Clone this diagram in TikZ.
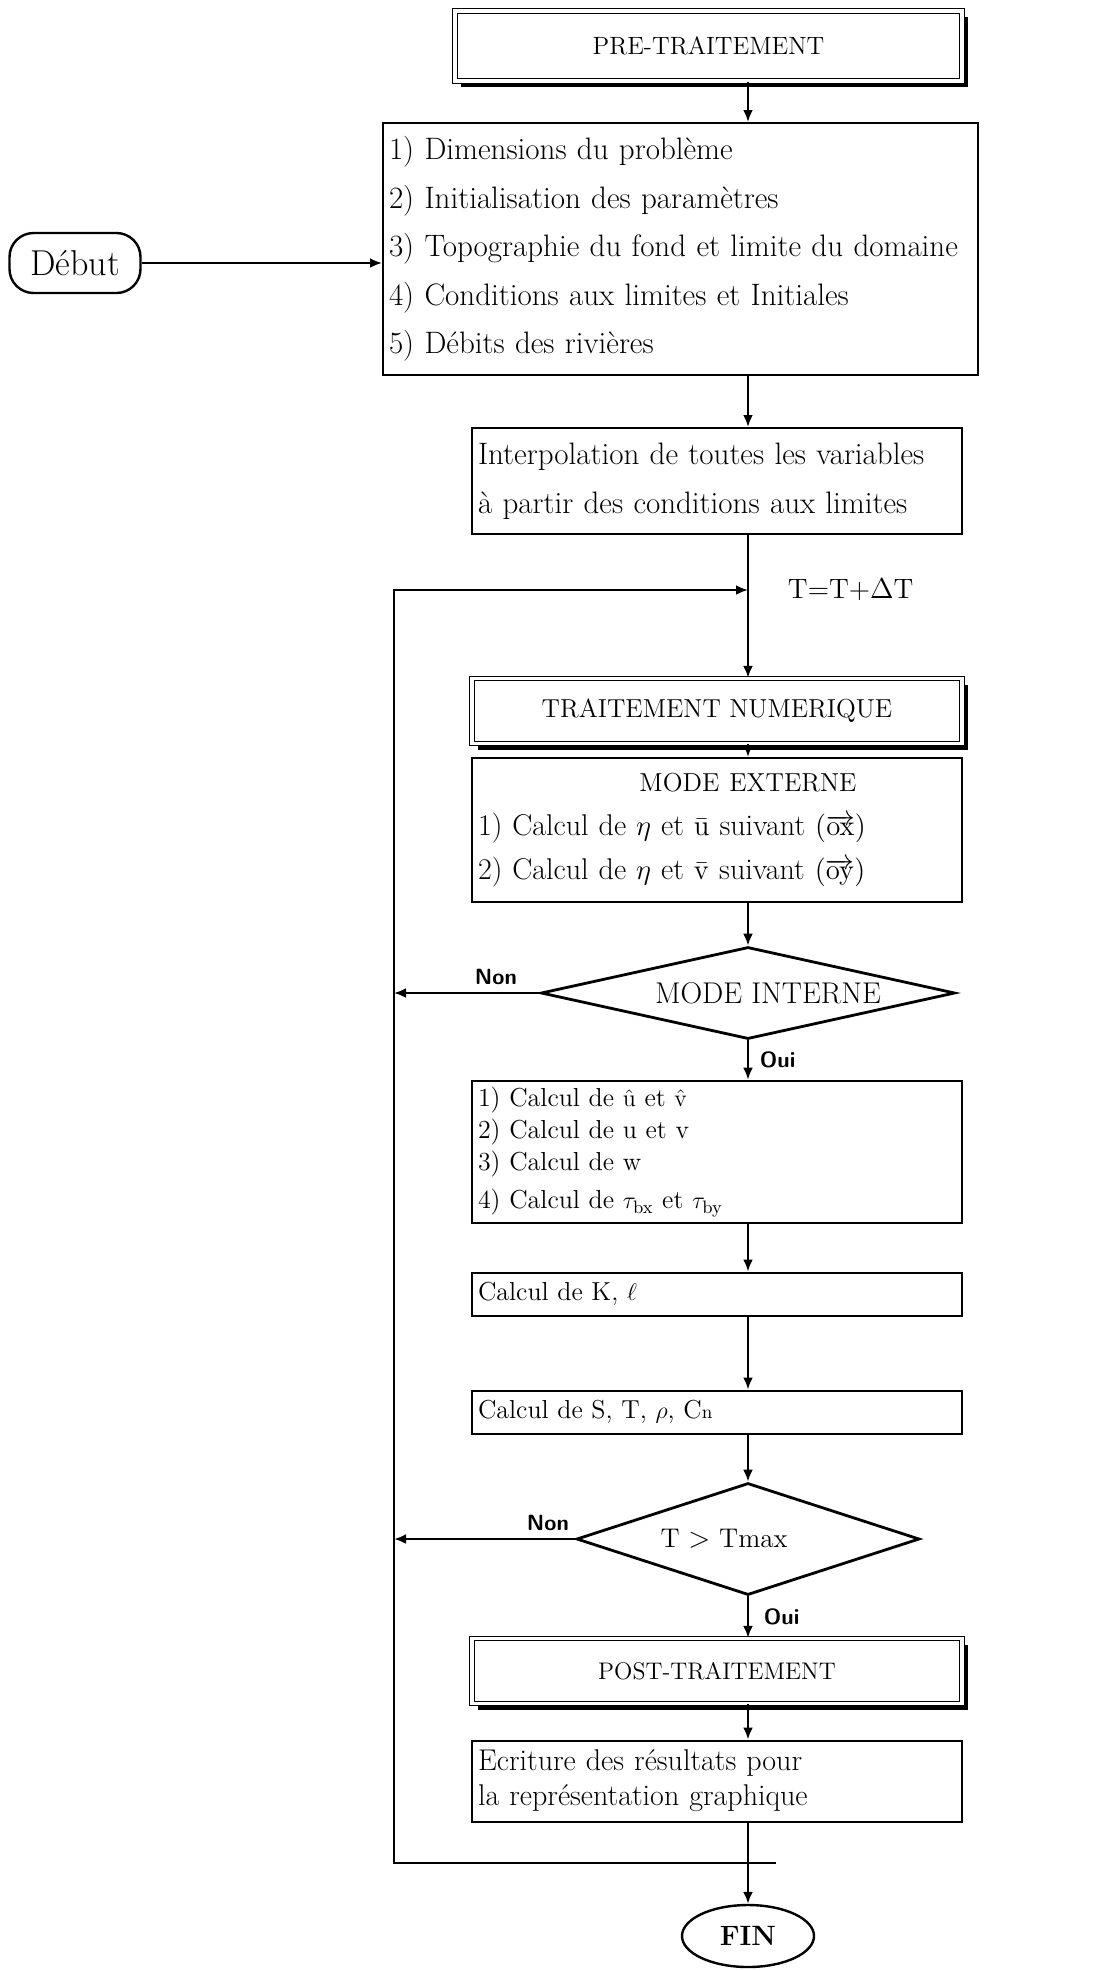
\documentclass[tikz,border=0pt]{standalone}
\usetikzlibrary{shapes,arrows.meta,shadows}

\tikzstyle{block} = [draw, rectangle, line width=1pt, inner xsep=3pt,
    align=left, text width=239pt, font=\fontsize{13}{17}\selectfont]
\tikzstyle{titlebox} = [draw, rectangle, line width=0.6pt, double,
    double distance=1.6pt, fill=white, minimum width=245pt,
    minimum height=32.5pt, font=\fontsize{12.5}{15}\selectfont,
    drop shadow={shadow xshift=3.2pt, shadow yshift=-3pt,
    opacity=1, fill=black}]
\tikzstyle{decision} = [draw, diamond, line width=1.4pt, inner sep=0pt,
    font=\fontsize{14}{16}\selectfont]
\tikzstyle{term} = [draw, line width=1.2pt, font=\fontsize{14}{16}\selectfont]
\tikzstyle{lbl} = [font=\sffamily\bfseries\fontsize{11}{12}\selectfont]
\tikzstyle{conn} = [line width=1.3pt]

\begin{document}
\begin{tikzpicture}[x=0.5pt, y=-0.5pt, >={Latex[length=6pt,width=5pt]}]
    \useasboundingbox (0,0) rectangle (1104,1971);
    % the vertical line that carries the flow
    \coordinate (main) at (748,0);

    % pre-processing part
    \node [titlebox, minimum width=253.5pt, minimum height=35pt] (pre)
        at (708.5,46) {PRE-TRAITEMENT};
    \node [block, text width=291.5pt, minimum height=126pt,
        font=\fontsize{15.5}{24.25}\selectfont] (dims) at (680.5,249)
        {1) Dimensions du problème\\
         2) Initialisation des paramètres\\
         3) Topographie du fond et limite du domaine\\
         4) Conditions aux limites et Initiales\\
         5) Débits des rivières};
    \node [term, rounded corners=12pt, minimum width=65.5pt,
        minimum height=30pt, font=\fontsize{18}{20}\selectfont] (debut)
        at (75,263) {Début};
    \node [block, minimum height=53pt, font=\fontsize{15.5}{24.5}\selectfont]
        (interp) at (717,481)
        {Interpolation de toutes les variables\\
         à partir des conditions aux limites};

    % time loop, placed one below the other
    \node [titlebox, font=\fontsize{13}{15}\selectfont, node distance=115pt,
        below of=interp] (trait) {TRAITEMENT NUMERIQUE};
    \node [block, minimum height=72pt, font=\fontsize{15}{22}\selectfont,
        node distance=59.5pt, below of=trait] (modeext)
        {\makebox[239pt][c]{\hspace*{31pt}\fontsize{13}{15}\selectfont
            MODE EXTERNE}\\
         1) Calcul de $\eta$ et $\smash{\bar{\mathrm{u}}}$ suivant
            $(\smash{\overrightarrow{\mathrm{ox}}})$\\
         2) Calcul de $\eta$ et $\smash{\bar{\mathrm{v}}}$ suivant
            $(\smash{\overrightarrow{\mathrm{oy}}})$};
    \node [decision, minimum width=207pt, minimum height=46pt,
        aspect=4.5, font=\fontsize{15}{17}\selectfont, node distance=81.5pt,
        below of=modeext, xshift=15.5pt] (modeint)
        {\hspace*{20pt}MODE INTERNE};
    \node [block, minimum height=70.5pt, node distance=161pt,
        below of=modeext] (calc4)
        {1) Calcul de $\smash{\hat{\mathrm{u}}}$ et
            $\smash{\hat{\mathrm{v}}}$\\[-1pt]
         2) Calcul de u et v\\[-1pt]
         3) Calcul de w\\[2pt]
         4) Calcul de $\tau_{\mathrm{bx}}$ et $\tau_{\mathrm{by}}$};
    \node [block, minimum height=21.5pt, node distance=71pt,
        below of=calc4] (calck) {Calcul de K, $\ell$};
    \node [block, minimum height=21.5pt, node distance=59pt,
        below of=calck] (calcs)
        {Calcul de S, T, $\rho$, C{\fontsize{9.5}{10}\selectfont n}};
    \node [decision, minimum width=171.5pt, minimum height=56pt,
        aspect=3.06, font=\fontsize{13.5}{15}\selectfont,
        node distance=63.5pt, below of=calcs, xshift=15.5pt] (tmax)
        {T $>$ Tmax\hspace*{24pt}};

    % post-processing part
    \node [titlebox, font=\fontsize{12}{15}\selectfont, node distance=129.5pt,
        below of=calcs] (post) {POST-TRAITEMENT};
    \node [block, minimum height=40.5pt, font=\fontsize{15}{17.5}\selectfont,
        node distance=55pt, below of=post] (ecrit)
        {Ecriture des résultats pour\\
         la représentation graphique};
    \node [term, ellipse, inner sep=0pt, minimum width=66pt,
        minimum height=31pt, node distance=77.5pt, below of=ecrit,
        xshift=15.5pt] (fin) {\textbf{FIN}};

    % points of the return line
    \coordinate (join) at (748,590);
    \coordinate (loopend) at (776,1863);
    \coordinate (loopcorner) at (394,1863);

    % main column
    \draw [conn,->] (pre.south -| main) -- (dims.north -| main);
    \draw [conn,->] (debut) -- (debut -| dims.west);
    \draw [conn,->] (dims.south -| main) -- (interp.north -| main);
    \draw [conn,->] (interp.south -| main) -- node [pos=0.386, right,
        xshift=16pt] {\fontsize{14}{16}\selectfont T=T+$\Delta$T}
        (trait.north -| main);
    \draw [conn,->] (trait.south -| main) -- (modeext.north -| main);
    \draw [conn,->] (modeext.south -| main) -- (modeint);
    \draw [conn,->] (modeint) -- node [lbl, right, xshift=2pt] {Oui}
        (calc4.north -| main);
    \draw [conn,->] (calc4.south -| main) -- (calck.north -| main);
    \draw [conn,->] (calck.south -| main) -- (calcs.north -| main);
    \draw [conn,->] (calcs.south -| main) -- (tmax);
    \draw [conn,->] (tmax) -- node [lbl, right, xshift=4pt] {Oui}
        (post.north -| main);
    \draw [conn,->] (post.south -| main) -- (ecrit.north -| main);
    \draw [conn,->] (ecrit.south -| main) -- (fin);

    % the Non branches and the return line
    \draw [conn,->] (modeint.west) -- node [lbl, above, pos=0.3] {Non}
        (modeint.west -| loopcorner);
    \draw [conn,->] (tmax.west) -- node [lbl, above, pos=0.15] {Non}
        (tmax.west -| loopcorner);
    \draw [conn,->] (loopend) -- (loopcorner) |- (join);
\end{tikzpicture}
\end{document}
